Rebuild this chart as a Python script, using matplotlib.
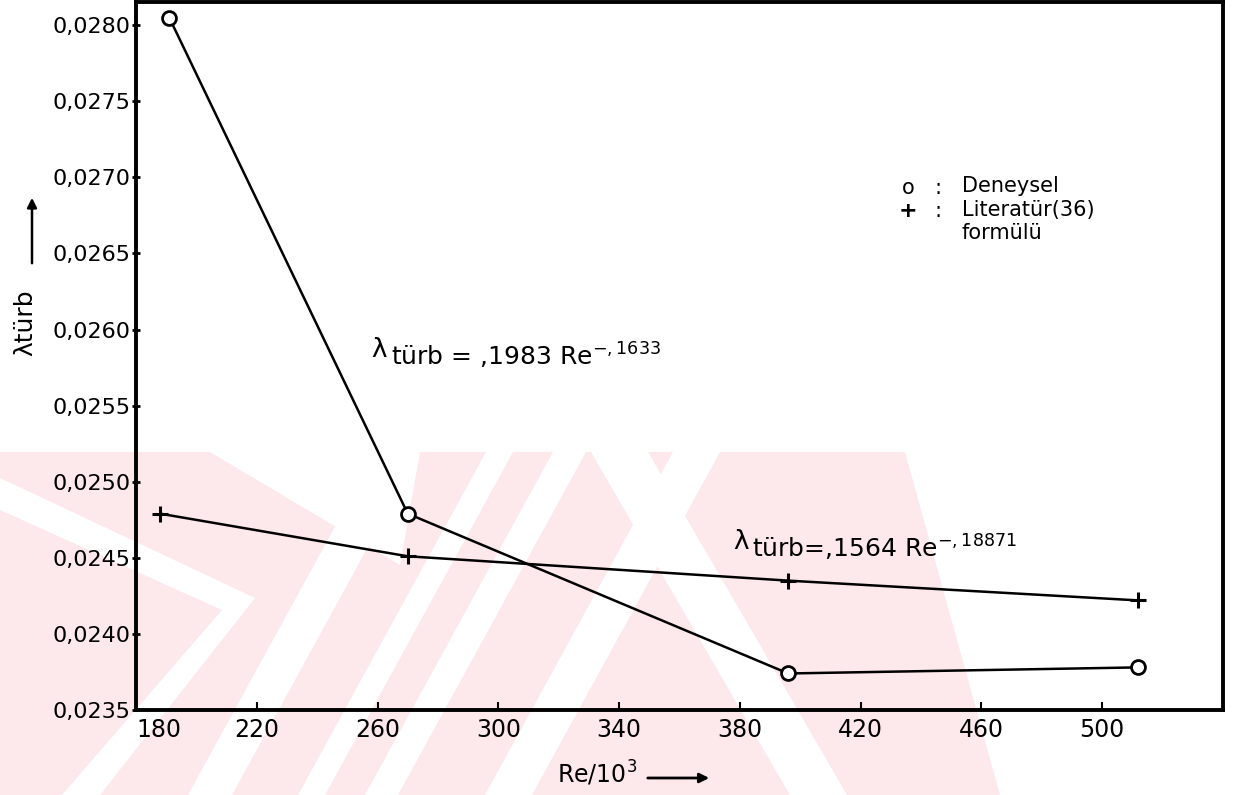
import matplotlib
matplotlib.use("Agg")
import matplotlib.pyplot as plt
from matplotlib.patches import FancyArrowPatch, Polygon

# Friction factor versus Reynolds number (Re / 10^3)
re_deneysel = [191, 270, 396, 512]
lam_deneysel = [0.02805, 0.02479, 0.02374, 0.02378]

re_literatur = [188, 270, 396, 512]
lam_literatur = [0.02479, 0.02451, 0.02435, 0.02422]

x_ticks = [180, 220, 260, 300, 340, 380, 420, 460, 500]
y_ticks = [0.0235, 0.0240, 0.0245, 0.0250, 0.0255, 0.0260,
           0.0265, 0.0270, 0.0275, 0.0280]
y_tick_labels = ["0,0235", "0,0240", "0,0245", "0,0250", "0,0255",
                 "0,0260", "0,0265", "0,0270", "0,0275", "0,0280"]

W, H = 1239, 795
plt.rcParams["font.family"] = ["DejaVu Sans"]
plt.rcParams["mathtext.fontset"] = "dejavusans"

fig = plt.figure(figsize=(W / 100, H / 100), dpi=100)
fig.patch.set_facecolor("white")


def px(x, y):
    """Pixel position (origin top-left) to figure fraction."""
    return x / W, 1 - y / H


def shape(points, color):
    """Background polygon given in pixel positions."""
    fig.add_artist(Polygon([px(x, y) for x, y in points], closed=True,
                           transform=fig.transFigure, facecolor=color,
                           edgecolor="none", zorder=0))


# Faint stamp in the lower part of the page
PINK = "#fde8ec"
shape([(0, 452), (905, 452), (1000, 795), (0, 795)], PINK)
shape([(210, 452), (420, 452), (400, 565)], "white")
shape([(0, 478), (255, 598), (100, 795), (62, 795), (222, 610), (0, 510)],
      "white")
for top_l, top_r, bot_l, bot_r in [(376, 420, 188, 232), (486, 513, 298, 325),
                                   (553, 586, 365, 398), (673, 720, 485, 532)]:
    shape([(top_l, 452), (top_r, 452), (bot_r, 795), (bot_l, 795)], "white")
shape([(591, 452), (648, 452), (847, 795), (790, 795)], "white")

ax = fig.add_axes([136 / W, 1 - 710 / H, (1223 - 136) / W, (710 - 2) / H])
ax.patch.set_alpha(0)
ax.set_xlim(180, 540)
ax.set_ylim(0.0235, 0.028152)

ax.plot(re_deneysel, lam_deneysel, color="black", lw=1.8, zorder=3)
ax.plot(re_deneysel, lam_deneysel, ls="none", marker="o", ms=10,
        mfc="white", mec="black", mew=2.0, zorder=4)
ax.plot(re_literatur, lam_literatur, color="black", lw=1.8, zorder=3,
        marker="+", ms=11, mew=2.2)

for side in ["left", "right", "top", "bottom"]:
    ax.spines[side].set_linewidth(2.8)
    ax.spines[side].set_color("black")

ax.set_xticks(x_ticks)
ax.set_xticklabels([str(v) for v in x_ticks], fontsize=17)
ax.set_yticks(y_ticks)
ax.set_yticklabels(y_tick_labels, fontsize=16)
ax.tick_params(axis="x", direction="in", length=6, width=1.5, pad=6)
ax.tick_params(axis="y", direction="inout", length=6, width=2, pad=1)
ax.get_xticklabels()[0].set_horizontalalignment("left")

# Axis titles with arrows
fig.text(*px(25, 323), "λtürb", rotation=90,
         fontsize=18, ha="center", va="center")
fig.add_artist(FancyArrowPatch(
    px(32, 266), px(32, 195), transform=fig.transFigure,
    arrowstyle="-|>", mutation_scale=14, lw=1.8, color="black"))

fig.text(*px(597, 773), r"Re/10$^3$", fontsize=17, ha="center", va="center")
fig.add_artist(FancyArrowPatch(
    px(645, 778), px(712, 778), transform=fig.transFigure,
    arrowstyle="-|>", mutation_scale=14, lw=2.0, color="black"))

# Legend written as text
fig.text(*px(908, 188), "o", fontsize=15, ha="center", va="center")
fig.text(*px(938, 188), ":", fontsize=15, ha="center", va="center")
fig.text(*px(962, 186), "Deneysel", fontsize=15, ha="left", va="center")
fig.text(*px(908, 211), "+", fontsize=16, ha="center", va="center",
         fontweight="bold")
fig.text(*px(938, 211), ":", fontsize=15, ha="center", va="center")
fig.text(*px(962, 210), "Literatür(36)", fontsize=15, ha="left", va="center")
fig.text(*px(962, 233), "formülü", fontsize=15, ha="left", va="center")

# Fitted correlations
fig.text(*px(379, 350), "λ", fontsize=19, ha="center", va="center")
fig.text(*px(391, 366), r"türb = ,1983 Re$^{-,1633}$",
         fontsize=18, ha="left", va="baseline")
fig.text(*px(741, 542), "λ", fontsize=19, ha="center", va="center")
fig.text(*px(752, 558), r"türb=,1564 Re$^{-,18871}$",
         fontsize=18, ha="left", va="baseline")

fig.savefig("out.png", dpi=100, facecolor="white")
